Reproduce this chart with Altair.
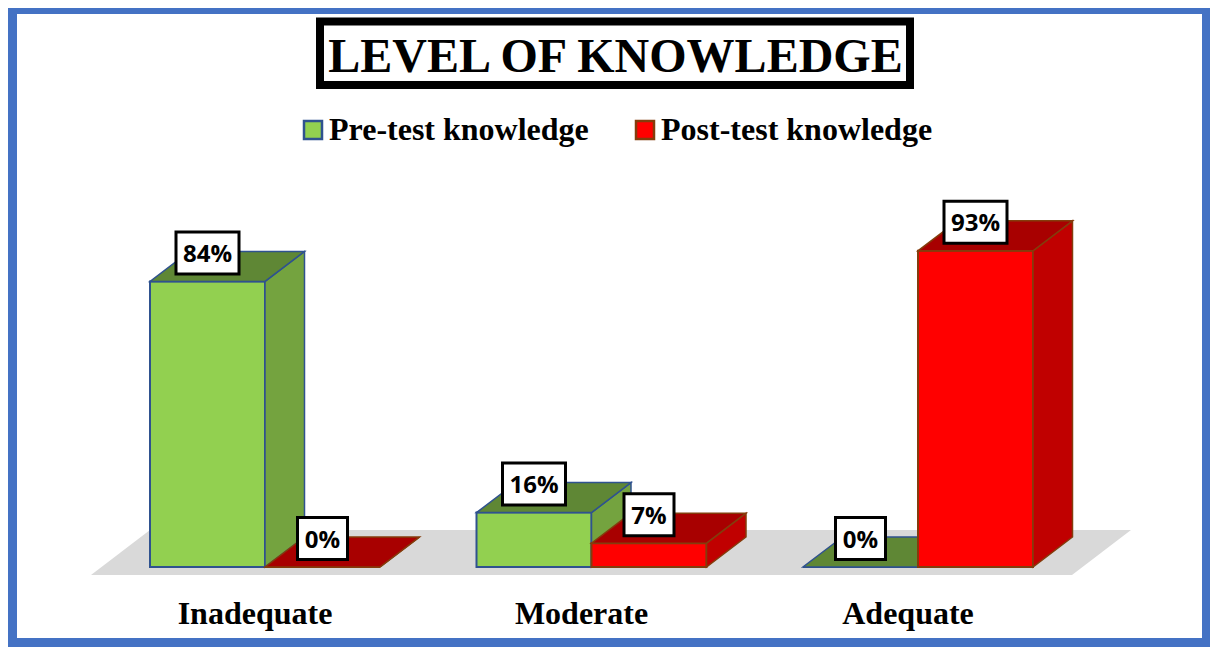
import altair as alt
import pandas as pd

# ---- values ----
categories = ["Inadequate", "Moderate", "Adequate"]
pre_test = [84, 16, 0]
post_test = [0, 7, 93]
series_names = ["Pre-test knowledge", "Post-test knowledge"]
title_text = "LEVEL OF KNOWLEDGE"

# ---- layout / style ----
W, H = 1202, 639
PX_PER_PCT = 3.4
BASE_PX = 559            # canvas y of the 0% line
DEPTH_X, DEPTH_Y = 39.5, 30
BAR_W = 115
GROUP0, GROUP_STEP = 142, 326.5
SERIF = "Liberation Serif"
SANS = "Open Sans"
FRONT = ["#92D050", "#FF0000"]
SIDE = ["#74A33F", "#C00000"]
TOP = ["#5F8735", "#A80000"]
EDGE = ["#2F528F", "#843C0C"]


def pct(px):
    return (BASE_PX - px) / PX_PER_PCT


xs = alt.Scale(domain=[0, W], range=[0, W], nice=False, zero=False)
ys = alt.Scale(domain=[pct(H), pct(0)], range=[H, 0], nice=False, zero=False)
X = alt.X("x:Q", scale=xs, axis=None)
Y = alt.Y("y:Q", scale=ys, axis=None)
dv = DEPTH_Y / PX_PER_PCT

bars = []
for s, vals in enumerate([pre_test, post_test]):
    for i, (c, v) in enumerate(zip(categories, vals)):
        left = GROUP0 + i * GROUP_STEP + s * BAR_W
        bars.append(dict(series=series_names[s], s=s, group=c, v=v, left=left, right=left + BAR_W))
bars = pd.DataFrame(bars)


def front(s):
    d = bars[bars.s == s].rename(columns={"left": "x", "right": "x2", "v": "y"}).assign(y2=0)
    return alt.Chart(d).mark_rect(strokeWidth=2).encode(
        x=X, x2="x2:Q", y=Y, y2="y2:Q",
        color=alt.Color("series:N", scale=alt.Scale(domain=series_names, range=FRONT),
                        legend=alt.Legend(
                            title=None, orient="none", legendX=289, legendY=106,
                            direction="horizontal", symbolType="square", symbolSize=324,
                            symbolStrokeWidth=2.5, symbolOpacity=1,
                            labelFont=SERIF, labelFontWeight="bold", labelFontSize=32,
                            labelColor="black", labelLimit=400, labelOffset=0,
                            columnPadding=40, rowPadding=0)),
        stroke=alt.Stroke("series:N", scale=alt.Scale(domain=series_names, range=EDGE), legend=None),
    )


def side(s):
    rows = []
    for b in bars[bars.s == s].to_dict("records"):
        rows.append(dict(group=b["group"], x=b["right"], y=b["v"], y2=0))
        rows.append(dict(group=b["group"], x=b["right"] + DEPTH_X, y=b["v"] + dv, y2=dv))
    return alt.Chart(pd.DataFrame(rows)).mark_area(
        color=SIDE[s], stroke=EDGE[s], strokeWidth=1.5, orient="vertical", opacity=1
    ).encode(x=X, y=Y, y2="y2:Q", detail="group:N")


def top(s):
    rows = []
    for b in bars[bars.s == s].to_dict("records"):
        rows.append(dict(group=b["group"], y=b["v"], x=b["left"], x2=b["right"]))
        rows.append(dict(group=b["group"], y=b["v"] + dv, x=b["left"] + DEPTH_X, x2=b["right"] + DEPTH_X))
    return alt.Chart(pd.DataFrame(rows)).mark_area(
        color=TOP[s], stroke=EDGE[s], strokeWidth=1.5, orient="horizontal", opacity=1
    ).encode(x=X, x2="x2:Q", y=Y, detail="group:N")


# white page inside the blue frame
page = alt.Chart(pd.DataFrame({"a": [0]})).mark_rect(color="white").encode(
    x=alt.value(9), x2=alt.value(1194), y=alt.value(6), y2=alt.value(630))

# grey floor
floor_df = pd.DataFrame([
    dict(y=pct(567), x=83, x2=1064),
    dict(y=pct(522), x=142, x2=1123),
])
floor = alt.Chart(floor_df).mark_area(color="#D9D9D9", orient="horizontal", opacity=1).encode(
    x=X, x2="x2:Q", y=Y)

# data labels
lab = bars.assign(
    text=bars.v.astype(str) + "%",
    x=(bars.left + bars.right) / 2,
    y=bars.v + 28.5 / PX_PER_PCT,
)
lab["hw"] = lab.text.str.len().map({2: 25, 3: 31.5})
lab["x0"] = lab.x - lab.hw
lab["x1"] = lab.x + lab.hw
lab["y0"] = lab.y - 21 / PX_PER_PCT
lab["y1"] = lab.y + 21 / PX_PER_PCT
lab_box = alt.Chart(lab).mark_rect(color="white", stroke="black", strokeWidth=3).encode(
    x=alt.X("x0:Q", scale=xs, axis=None), x2="x1:Q",
    y=alt.Y("y0:Q", scale=ys, axis=None), y2="y1:Q")
lab_text = alt.Chart(lab).mark_text(font=SANS, fontWeight="bold", fontSize=24, color="black",
                                    baseline="middle", align="center", dy=2).encode(
    x=X, y=Y, text="text:N")

# category labels
cat_df = pd.DataFrame({"group": categories,
                       "x": [GROUP0 + i * GROUP_STEP + BAR_W - 10 for i in range(3)]})
cat_text = alt.Chart(cat_df).mark_text(font=SERIF, fontWeight="bold", fontSize=32, color="black",
                                       baseline="alphabetic", align="center").encode(
    x=X, y=alt.value(616), text="group:N")

# title with thick box
title_df = pd.DataFrame({"t": [title_text]})
title_box = alt.Chart(title_df).mark_rect(color="white", stroke="black", strokeWidth=8).encode(
    x=alt.value(312), x2=alt.value(902), y=alt.value(13.5), y2=alt.value(77))
title = alt.Chart(title_df).mark_text(font=SERIF, fontWeight="bold", fontSize=48, color="black",
                                      baseline="alphabetic", align="center").encode(
    x=alt.value(607.5), y=alt.value(64), text="t:N")

chart = alt.layer(
    page, floor,
    front(0), side(0), top(0),
    front(1), side(1), top(1),
    lab_box, lab_text, cat_text, title_box, title,
).properties(
    width=W, height=H, padding=0, background="#4472C4",
    autosize=alt.AutoSizeParams(type="none"),
).configure_view(stroke=None)

chart.save("out.html", embed_options={"renderer": "svg", "actions": False})
